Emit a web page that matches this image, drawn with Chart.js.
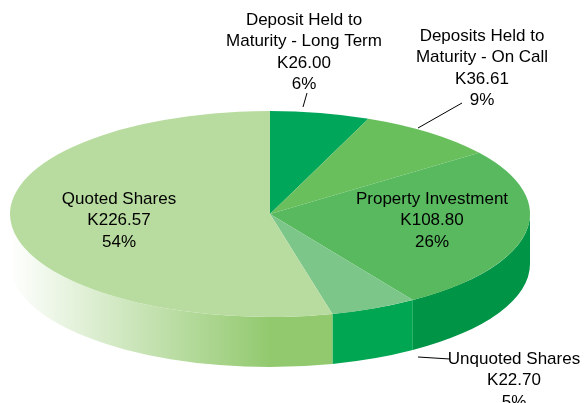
<!DOCTYPE html>
<html><head><meta charset="utf-8">
<script src="https://cdn.jsdelivr.net/npm/chart.js@4"></script>
<style>html,body{margin:0;padding:0;background:#fff;overflow:hidden}canvas{display:block}</style>
</head><body>
<canvas id="c" width="584" height="403"></canvas>
<script>
// ---- data ----
const categories = ['Deposit Held to\nMaturity - Long Term', 'Deposits Held to\nMaturity - On Call', 'Property Investment', 'Unquoted Shares', 'Quoted Shares'];
const values = [26.00, 36.61, 108.80, 22.70, 226.57];
const currencyPrefix = 'K';

// ---- styles ----
const topColors  = ['#00A65A', '#6ABF5D', '#58B95E', '#7DC68A', '#B8DC9F'];
const sideColors = ['#008F4C', '#4FA044', '#009446', '#00A651', null];
const DEPTH = 50;
const FONT = '17px "Liberation Sans", Arial, sans-serif';
const LINE_H = 21.5;
const labelLayout = [
  {x: 304, y: 20,  leader: [303, 107, 307, 93]},
  {x: 482, y: 36,  leader: [418, 128, 462, 103]},
  {x: 432, y: 199},
  {x: 514, y: 359, leader: [418, 357, 450, 359]},
  {x: 119, y: 199}
];

const total = values.reduce((a, b) => a + b, 0);

const pie3d = {
  id: 'pie3d',
  beforeDatasetsDraw(chart) {
    const ctx = chart.ctx, area = chart.chartArea;
    const arcs = chart.getDatasetMeta(0).data;
    const cx = arcs[0].x, cy = arcs[0].y, ry = arcs[0].outerRadius;
    const rx = area.width / 2;
    arcs.forEach((el, i) => {
      const s = Math.max(el.startAngle, 0), e = Math.min(el.endAngle, Math.PI);
      if (e <= s) return;
      ctx.save();
      ctx.beginPath();
      ctx.ellipse(cx, cy, rx, ry, 0, s, e, false);
      ctx.lineTo(cx + rx * Math.cos(e), cy + ry * Math.sin(e) + DEPTH);
      ctx.ellipse(cx, cy + DEPTH, rx, ry, 0, e, s, true);
      ctx.closePath();
      if (sideColors[i]) {
        ctx.fillStyle = sideColors[i];
      } else {
        const g = ctx.createLinearGradient(cx - rx, 0, cx, 0);
        g.addColorStop(0, '#ffffff');
        g.addColorStop(1, '#92C96E');
        ctx.fillStyle = g;
      }
      ctx.fill();
      ctx.restore();
    });
    ctx.save();
    ctx.translate(cx, cy);
    ctx.scale(rx / ry, 1);
    ctx.translate(-cx, -cy);
  },
  afterDatasetsDraw(chart) {
    const ctx = chart.ctx;
    ctx.restore();
    ctx.save();
    ctx.fillStyle = '#000';
    ctx.strokeStyle = '#000';
    ctx.lineWidth = 1;
    ctx.font = FONT;
    ctx.textAlign = 'center';
    ctx.textBaseline = 'middle';
    categories.forEach((name, i) => {
      const L = labelLayout[i];
      const lines = name.split('\n').concat([
        currencyPrefix + values[i].toFixed(2),
        Math.round(values[i] / total * 100) + '%'
      ]);
      lines.forEach((t, k) => ctx.fillText(t, L.x, L.y + k * LINE_H));
      if (L.leader) {
        ctx.beginPath();
        ctx.moveTo(L.leader[0], L.leader[1]);
        ctx.lineTo(L.leader[2], L.leader[3]);
        ctx.stroke();
      }
    });
    ctx.restore();
  }
};

new Chart(document.getElementById('c'), {
  type: 'pie',
  data: {
    labels: categories,
    datasets: [{data: values, backgroundColor: topColors, borderWidth: 0, clip: false}]
  },
  options: {
    responsive: false,
    animation: false,
    events: [],
    layout: {padding: {left: 10, right: 54, top: 111, bottom: 86}},
    plugins: {legend: {display: false}, tooltip: {enabled: false}}
  },
  plugins: [pie3d]
});
</script>
</body></html>
